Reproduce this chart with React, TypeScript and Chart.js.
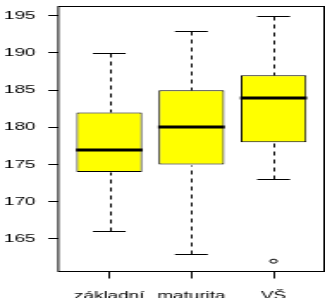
import React, { useEffect, useRef } from "react";
import { Chart, registerables } from "chart.js";

Chart.register(...registerables);

// ---- data ----
const categories = ["základní", "maturita", "VŠ"];
const whiskerLow = [166, 163, 173];
const quartile1 = [174, 175, 178];
const medians = [177, 180, 184];
const quartile3 = [182, 185, 187];
const whiskerHigh = [190, 193, 195];
const outlierGroup = [3];
const outlierValues = [162];
const yTicks = [165, 170, 175, 180, 185, 190, 195];

// ---- layout (the reference is horizontally stretched, so draw narrow and stretch) ----
const W = 189;
const H = 298;
const SX = 325 / W;
const FONT = { family: "'Liberation Sans', Arial, Helvetica, sans-serif", size: 11 };

const allValues = [...whiskerLow, ...whiskerHigh, ...outlierValues];
const yLo = Math.min(...allValues);
const yHi = Math.max(...allValues);
const yPad = (yHi - yLo) * 0.04;
const yMin = yLo - yPad;
const yMax = yHi + yPad;
const xPad = categories.length * 0.04;
const xMin = 0.5 - xPad;
const xMax = categories.length + 0.5 + xPad;

const boxPlugin = {
  id: "boxplotExtras",
  afterDatasetsDraw(chart: any) {
    const { ctx, chartArea, scales } = chart;
    const x = scales.x;
    const y = scales.y;
    const py = (v: number) => Math.round(y.getPixelForValue(v)) + 0.5;
    ctx.save();
    ctx.strokeStyle = "#000";
    categories.forEach((_, i) => {
      const pos = i + 1;
      const cx = Math.round(x.getPixelForValue(pos)) + 0.5;
      const capL = x.getPixelForValue(pos - 0.2);
      const capR = x.getPixelForValue(pos + 0.2);
      const boxL = x.getPixelForValue(pos - 0.4);
      const boxR = x.getPixelForValue(pos + 0.4);
      // dashed whiskers
      ctx.lineWidth = 1;
      ctx.setLineDash([4, 4]);
      ctx.beginPath();
      ctx.moveTo(cx, py(whiskerHigh[i]));
      ctx.lineTo(cx, py(quartile3[i]));
      ctx.moveTo(cx, py(whiskerLow[i]));
      ctx.lineTo(cx, py(quartile1[i]));
      ctx.stroke();
      ctx.setLineDash([]);
      // caps
      ctx.beginPath();
      ctx.moveTo(capL, py(whiskerHigh[i]));
      ctx.lineTo(capR, py(whiskerHigh[i]));
      ctx.moveTo(capL, py(whiskerLow[i]));
      ctx.lineTo(capR, py(whiskerLow[i]));
      ctx.stroke();
      // median
      ctx.lineWidth = 3;
      ctx.beginPath();
      const my = Math.round(y.getPixelForValue(medians[i]));
      ctx.moveTo(boxL - 0.3, my);
      ctx.lineTo(boxR + 0.3, my);
      ctx.stroke();
    });
    // frame
    ctx.lineWidth = 1;
    const l = chartArea.left;
    const r = Math.floor(chartArea.right) + 0.5;
    const t = Math.floor(chartArea.top) + 0.5;
    const b = Math.floor(chartArea.bottom) + 0.5;
    ctx.strokeRect(l, t, r - l, b - t);
    ctx.restore();
  },
};

export default function App() {
  const ref = useRef<HTMLCanvasElement>(null);

  useEffect(() => {
    const canvas = ref.current;
    if (!canvas) return;
    const chart = new Chart(canvas, {
      type: "bar",
      data: {
        datasets: [
          {
            type: "bar",
            data: categories.map((_, i) => ({ x: i + 1, y: [quartile1[i], quartile3[i]] })) as any,
            backgroundColor: "#FFFF00",
            borderColor: "#000",
            borderWidth: 1,
            borderSkipped: false,
            categoryPercentage: 1,
            barPercentage: 0.8,
          } as any,
          {
            type: "scatter",
            data: outlierGroup.map((g, i) => ({ x: g, y: outlierValues[i] })),
            pointRadius: 2,
            pointStyle: "circle",
            pointBackgroundColor: "rgba(0,0,0,0)",
            pointBorderColor: "#000",
            pointBorderWidth: 1,
          } as any,
        ],
      },
      options: {
        responsive: false,
        animation: false,
        devicePixelRatio: 1,
        layout: { autoPadding: false, padding: { top: 6, right: 0.3, left: 0, bottom: 0 } },
        plugins: { legend: { display: false }, tooltip: { enabled: false } },
        scales: {
          x: {
            type: "linear",
            min: xMin,
            max: xMax,
            offset: false,
            afterBuildTicks: (s: any) => {
              s.ticks = categories.map((_, i) => ({ value: i + 1 }));
            },
            afterFit: (s: any) => {
              s.height = 27;
              s.paddingLeft = 0;
              s.paddingRight = 0;
            },
            ticks: {
              font: FONT,
              color: "#000",
              padding: 11,
              maxRotation: 0,
              autoSkip: false,
              callback: (v: any) => categories[Math.round(Number(v)) - 1] ?? "",
            },
            grid: {
              offset: false,
              drawOnChartArea: false,
              drawTicks: true,
              tickLength: 7.5,
              tickColor: "#000",
              tickWidth: 1,
            },
            border: { display: false },
          },
          y: {
            type: "linear",
            min: yMin,
            max: yMax,
            beginAtZero: false,
            afterBuildTicks: (s: any) => {
              s.ticks = yTicks.map((v) => ({ value: v }));
            },
            afterFit: (s: any) => {
              s.width = 58.3 / SX;
              s.paddingTop = 0;
              s.paddingBottom = 0;
            },
            ticks: { font: FONT, color: "#000", padding: 12.7 / SX },
            grid: {
              drawOnChartArea: false,
              drawTicks: true,
              tickLength: 10 / SX,
              tickColor: "#000",
              tickWidth: 1,
            },
            border: { display: false },
          },
        },
      } as any,
      plugins: [boxPlugin],
    });
    return () => chart.destroy();
  }, []);

  return (
    <div
      style={{
        position: "absolute",
        left: 0,
        top: 0,
        width: W,
        height: H,
        transform: `scaleX(${SX})`,
        transformOrigin: "0 0",
      }}
    >
      <canvas ref={ref} width={W} height={H} style={{ display: "block", width: W, height: H }} />
    </div>
  );
}
